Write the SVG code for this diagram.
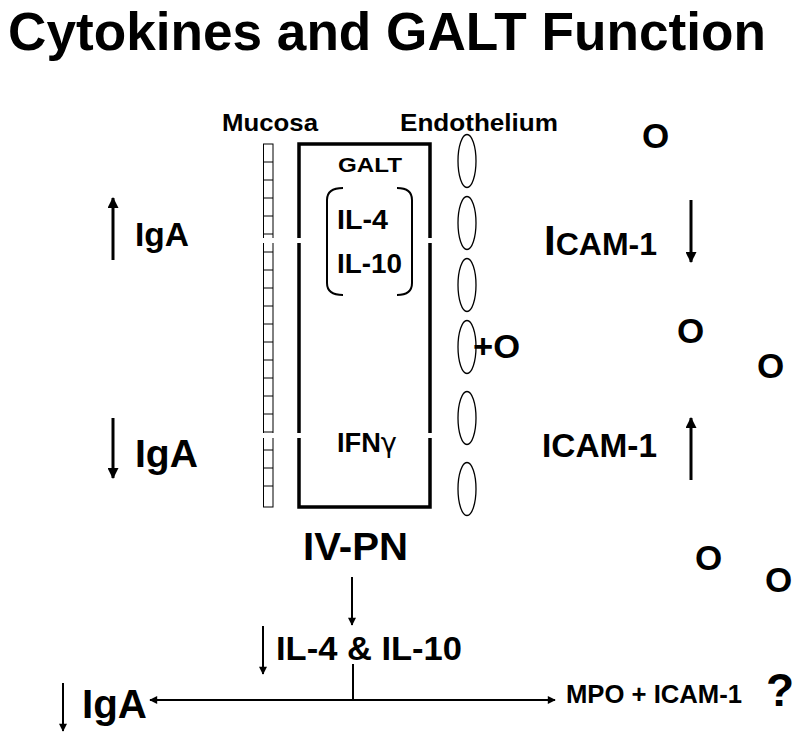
<svg xmlns="http://www.w3.org/2000/svg" width="800" height="738" viewBox="0 0 800 738">
<defs>
<style>
text{font-family:"Liberation Sans",Arial,sans-serif;font-weight:bold;fill:#000}
.ln{stroke:#000;fill:none}
.ell{fill:#fff;stroke:#000;stroke-width:1.3}
</style>
<marker id="ah" viewBox="0 0 10 10" refX="9" refY="5" markerWidth="11" markerHeight="8" markerUnits="userSpaceOnUse" orient="auto"><path d="M0,0L10,5L0,10z" fill="#000"/></marker>
<marker id="ahb" viewBox="0 0 10 10" refX="9" refY="5" markerWidth="14" markerHeight="11" markerUnits="userSpaceOnUse" orient="auto"><path d="M0,0L10,5L0,10z" fill="#000"/></marker>
</defs>
<rect width="800" height="738" fill="#fff"/>
<g id="title"><text x="8" y="50" font-size="53" textLength="758" lengthAdjust="spacingAndGlyphs">Cytokines and GALT Function</text></g>
<g id="mucosa">
<text x="222" y="131" font-size="23" textLength="96" lengthAdjust="spacingAndGlyphs">Mucosa</text>
<rect x="263.5" y="144" width="9.5" height="363" fill="#fff" stroke="#000" stroke-width="1"/>
<path class="ln" stroke-width="1" d="M263.5,162H273M263.5,180H273M263.5,198H273M263.5,216H273M263.5,234H273M263.5,252H273M263.5,270H273M263.5,288H273M263.5,306H273M263.5,324H273M263.5,342H273M263.5,360H273M263.5,378H273M263.5,396H273M263.5,414H273M263.5,432H273M263.5,450H273M263.5,468H273M263.5,486H273"/>
<rect x="262" y="238" width="13" height="5" fill="#fff"/>
<rect x="262" y="433" width="13" height="5" fill="#fff"/>
</g>
<g id="galt">
<rect x="299" y="144" width="131" height="363" fill="none" stroke="#000" stroke-width="3.5"/>
<rect x="295" y="238" width="8" height="5" fill="#fff"/>
<rect x="426" y="238" width="8" height="5" fill="#fff"/>
<rect x="295" y="433" width="8" height="5" fill="#fff"/>
<rect x="426" y="433" width="8" height="5" fill="#fff"/>
<text x="338" y="172" font-size="21" textLength="64" lengthAdjust="spacingAndGlyphs">GALT</text>
<path class="ln" stroke-width="2" d="M343,188C333,188 327,192 327,200V283C327,291 333,295 343,295"/>
<path class="ln" stroke-width="2" d="M397,188C407,188 412,192 412,200V283C412,291 407,295 397,295"/>
<text x="337" y="229" font-size="28" textLength="51" lengthAdjust="spacingAndGlyphs">IL-4</text>
<text x="337" y="273" font-size="28" textLength="65" lengthAdjust="spacingAndGlyphs">IL-10</text>
<text x="337" y="452" font-size="27" textLength="60" lengthAdjust="spacingAndGlyphs">IFN<tspan font-family="DejaVu Sans,sans-serif" font-weight="normal">γ</tspan></text>
</g>
<g id="endothelium">
<text x="400" y="131" font-size="23" textLength="158" lengthAdjust="spacingAndGlyphs">Endothelium</text>
<ellipse class="ell" cx="467" cy="161" rx="9" ry="26.5"/>
<ellipse class="ell" cx="467" cy="223" rx="9" ry="26.5"/>
<ellipse class="ell" cx="467" cy="285" rx="9" ry="26.5"/>
<ellipse class="ell" cx="467" cy="347" rx="9" ry="26.5"/>
<ellipse class="ell" cx="467" cy="418" rx="9" ry="26.5"/>
<ellipse class="ell" cx="467" cy="489" rx="9" ry="26.5"/>
<text x="473" y="358" font-size="33" textLength="47" lengthAdjust="spacingAndGlyphs">+O</text>
</g>
<g id="iga-top"><text x="135" y="246" font-size="33" textLength="54" lengthAdjust="spacingAndGlyphs">IgA</text></g>
<g id="iga-mid"><text x="135" y="467" font-size="39" textLength="63" lengthAdjust="spacingAndGlyphs">IgA</text></g>
<g id="icam-top"><text x="544" y="255" font-size="32"><tspan font-size="42">I</tspan>CAM-1</text></g>
<g id="icam-bottom"><text x="542" y="457" font-size="33" textLength="115" lengthAdjust="spacingAndGlyphs">ICAM-1</text></g>
<g id="cells">
<text x="642" y="148" font-size="35">O</text>
<text x="677" y="343" font-size="35">O</text>
<text x="757" y="378" font-size="35">O</text>
<text x="695" y="570" font-size="35">O</text>
<text x="765" y="592" font-size="35">O</text>
</g>
<g id="ivpn"><text x="303" y="560" font-size="39" textLength="105" lengthAdjust="spacingAndGlyphs">IV-PN</text></g>
<g id="il-bottom"><text x="276" y="660" font-size="34" textLength="186" lengthAdjust="spacingAndGlyphs">IL-4 &amp; IL-10</text></g>
<g id="iga-bottom"><text x="82" y="718" font-size="40" textLength="65" lengthAdjust="spacingAndGlyphs">IgA</text></g>
<g id="mpo"><text x="566" y="703" font-size="25" textLength="176" lengthAdjust="spacingAndGlyphs">MPO + ICAM-1</text><text x="766" y="706" font-size="46">?</text></g>
<g id="connectors">
<line class="ln" stroke-width="3" x1="113" y1="260" x2="113" y2="198" marker-end="url(#ahb)"/>
<line class="ln" stroke-width="3" x1="113" y1="418" x2="113" y2="478" marker-end="url(#ahb)"/>
<line class="ln" stroke-width="3" x1="691" y1="200" x2="691" y2="262" marker-end="url(#ahb)"/>
<line class="ln" stroke-width="3" x1="691" y1="480" x2="691" y2="418" marker-end="url(#ahb)"/>
<line class="ln" stroke-width="2" x1="352" y1="577" x2="352" y2="625" marker-end="url(#ah)"/>
<line class="ln" stroke-width="2" x1="263" y1="626" x2="263" y2="674" marker-end="url(#ah)"/>
<line class="ln" stroke-width="2" x1="63" y1="683" x2="63" y2="731" marker-end="url(#ah)"/>
<line class="ln" stroke-width="2" x1="353" y1="664" x2="353" y2="700"/>
<line class="ln" stroke-width="2" x1="353" y1="700" x2="150" y2="700" marker-end="url(#ah)"/>
<line class="ln" stroke-width="2" x1="353" y1="700" x2="555" y2="700" marker-end="url(#ah)"/>
</g>
</svg>
